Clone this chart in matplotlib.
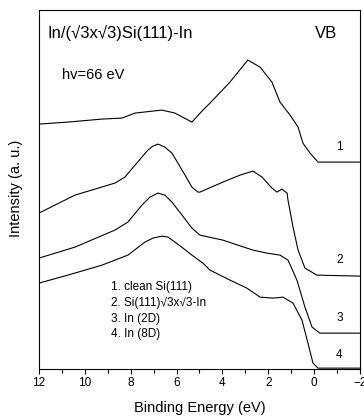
import matplotlib
matplotlib.use("Agg")
import matplotlib.pyplot as plt
from matplotlib.ticker import MultipleLocator
import numpy as np

plt.rcParams['font.family'] = ['Liberation Sans', 'DejaVu Sans']

# binding energy (eV) / intensity (a.u.)
e1 = [12.0, 10.74, 9.25, 8.38, 7.81, 6.64, 6.07, 5.33, 4.85, 4.54, 3.67, 2.89, 2.36,
      1.84, 1.49, 1.05, 0.70, 0.49, 0.18, -0.17, -2.0]
i1 = [2.45, 2.47, 2.50, 2.51, 2.56, 2.59, 2.56, 2.47, 2.59, 2.66, 2.87, 3.09, 3.02,
      2.87, 2.67, 2.54, 2.42, 2.26, 2.16, 2.07, 2.07]

e2 = [12.0, 10.43, 8.69, 8.25, 7.81, 7.51, 7.25, 7.03, 6.81, 6.51, 6.20, 5.94, 5.63,
      5.33, 5.07, 4.98, 3.98, 3.23, 2.67, 2.27, 1.84, 1.62, 1.40, 1.18, 1.14, 0.92,
      0.70, 0.40, -0.12, -2.0]
i2 = [1.56, 1.74, 1.86, 1.92, 2.04, 2.12, 2.19, 2.23, 2.25, 2.22, 2.16, 2.06, 1.94,
      1.82, 1.77, 1.77, 1.87, 1.94, 1.98, 1.92, 1.81, 1.77, 1.80, 1.76, 1.69, 1.42,
      1.19, 1.01, 0.94, 0.93]

e3 = [12.0, 10.43, 8.69, 8.12, 7.51, 7.16, 6.81, 6.51, 6.20, 5.76, 5.33, 4.98, 3.98,
      2.67, 2.06, 1.49, 1.14, 0.75, 0.40, 0.09, -0.25, -2.0]
i3 = [1.11, 1.22, 1.39, 1.47, 1.64, 1.72, 1.76, 1.74, 1.67, 1.54, 1.41, 1.34, 1.29,
      1.19, 1.16, 1.14, 1.09, 0.89, 0.62, 0.42, 0.36, 0.36]

e4 = [12.0, 10.74, 9.25, 8.12, 7.38, 7.03, 6.64, 6.37, 6.07, 5.72, 5.33, 4.85, 4.54,
      3.67, 2.93, 2.36, 1.79, 1.36, 0.92, 0.53, 0.27, 0.05, -0.17, -2.0]
i4 = [0.86, 0.94, 1.04, 1.14, 1.27, 1.31, 1.33, 1.32, 1.27, 1.21, 1.14, 1.06, 0.99,
      0.89, 0.81, 0.72, 0.71, 0.72, 0.66, 0.49, 0.26, 0.06, 0.01, 0.01]

curve_labels = ["1", "2", "3", "4"]
label_y = [2.22, 1.09, 0.51, 0.14]
legend_lines = ["1. clean Si(111)", "2. Si(111)\u221a3x\u221a3-In", "3. In (2D)", "4. In (8D)"]

fig = plt.figure(figsize=(3.64, 4.19), dpi=100)
ax = fig.add_axes([0.107, 0.119, 0.882, 0.857])

for e, i in [(e1, i1), (e2, i2), (e3, i3), (e4, i4)]:
    ax.plot(e, i, color='black', lw=0.8)

ax.set_xlim(12, -2)
ax.set_ylim(0, 3.59)
ax.xaxis.set_major_locator(MultipleLocator(2))
ax.xaxis.set_minor_locator(MultipleLocator(1))
ax.tick_params(axis='x', which='major', direction='out', length=3.5, width=0.8, pad=2, labelsize=8.5)
ax.tick_params(axis='x', which='minor', direction='out', length=3, width=0.8)
ax.set_yticks([])
for s in ax.spines.values():
    s.set_linewidth(0.8)

ax.set_xlabel("Binding Energy (eV)", fontsize=10.5)
ax.xaxis.set_label_coords(0.5, -0.088)
ax.set_ylabel("Intensity (a. u.)", fontsize=10.5)
ax.yaxis.set_label_coords(-0.05, 0.504)

# texts inside the frame
ax.text(0.028, 0.936, "In/(\u221a3x\u221a3)Si(111)-In", transform=ax.transAxes,
        fontsize=12, ha='left', va='center')
ax.text(0.928, 0.936, "VB", transform=ax.transAxes, fontsize=12, ha='right', va='center')
ax.text(0.072, 0.819, "hv=66 eV", transform=ax.transAxes, fontsize=10.5, ha='left', va='center')

for lab, y in zip(curve_labels, label_y):
    ax.text(-1.1, y, lab, fontsize=8.5, ha='center', va='center')

for k, t in enumerate(legend_lines):
    ax.text(0.224, 0.228 - k * 0.0435, t, transform=ax.transAxes, fontsize=8.5,
            ha='left', va='center')

fig.savefig("out.png", dpi=100)
